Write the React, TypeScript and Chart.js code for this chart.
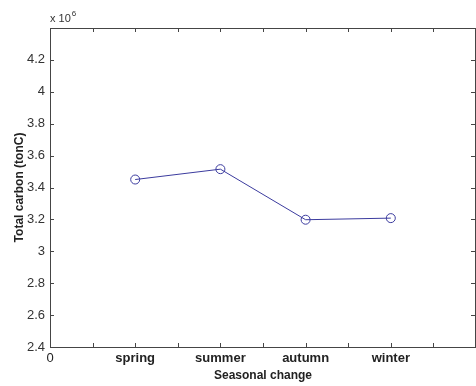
import React, { useEffect, useRef } from "react";
import { Chart, registerables } from "chart.js";

Chart.register(...registerables);

const categories = ["spring", "summer", "autumn", "winter"];
const totalCarbon = [3450000, 3515000, 3198000, 3208000];
const yTicks = [2.4, 2.6, 2.8, 3.0, 3.2, 3.4, 3.6, 3.8, 4.0, 4.2, 4.4];
const yScaleFactor = 1e6;
const xTickStep = 0.5;

const FONT = "'Liberation Sans', Arial, sans-serif";
const AXIS_COLOR = "#454545";

const boxPlugin = {
  id: "matlabBox",
  afterDraw(chart: any) {
    const { ctx, chartArea } = chart;
    const { left, right, top, bottom } = chartArea;
    const xs = chart.scales.x;
    const ys = chart.scales.y;
    ctx.save();
    ctx.strokeStyle = AXIS_COLOR;
    ctx.lineWidth = 1;
    ctx.strokeRect(Math.round(left) + 0.5, Math.round(top) + 0.5, Math.round(right - left) - 1, Math.round(bottom - top));
    const tl = 4;
    ctx.beginPath();
    for (let v = xs.min; v <= xs.max + 1e-9; v += xTickStep) {
      const px = Math.round(xs.getPixelForValue(v)) + 0.5;
      ctx.moveTo(px, bottom);
      ctx.lineTo(px, bottom - tl);
      ctx.moveTo(px, top);
      ctx.lineTo(px, top + tl);
    }
    for (const t of yTicks) {
      const py = Math.round(ys.getPixelForValue(t * yScaleFactor)) + 0.5;
      ctx.moveTo(left, py);
      ctx.lineTo(left + tl, py);
      ctx.moveTo(right - 1, py);
      ctx.lineTo(right - 1 - tl, py);
    }
    ctx.stroke();
    // exponent label
    ctx.fillStyle = "#333";
    ctx.textBaseline = "alphabetic";
    ctx.textAlign = "left";
    ctx.font = `11px ${FONT}`;
    const base = "x 10";
    ctx.fillText(base, left, top - 6);
    const w = ctx.measureText(base).width;
    ctx.font = `8px ${FONT}`;
    ctx.fillText(String(Math.log10(yScaleFactor)), left + w + 1, top - 12);
    ctx.restore();
  },
};

export default function App() {
  const ref = useRef<HTMLCanvasElement | null>(null);
  useEffect(() => {
    if (!ref.current) return;
    const chart = new Chart(ref.current, {
      type: "scatter",
      data: {
        datasets: [
          {
            data: totalCarbon.map((v, i) => ({ x: i + 1, y: v })),
            showLine: true,
            borderColor: "#3b3b9e",
            borderWidth: 1,
            pointStyle: "circle",
            pointRadius: 4.5,
            pointBorderWidth: 1,
            pointBackgroundColor: "rgba(0,0,0,0)",
            pointBorderColor: "#3b3b9e",
          },
        ],
      },
      plugins: [boxPlugin],
      options: {
        animation: false,
        responsive: false,
        layout: { autoPadding: false, padding: { top: 28, right: 0, left: 0, bottom: 0 } },
        plugins: { legend: { display: false }, tooltip: { enabled: false } },
        scales: {
          x: {
            type: "linear",
            min: 0,
            max: categories.length + 1,
            afterFit: (s: any) => {
              s.height = 39;
              s.paddingLeft = 0;
              s.paddingRight = 0;
            },
            grid: { display: false, drawTicks: false },
            border: { display: false },
            ticks: {
              stepSize: xTickStep,
              autoSkip: false,
              maxRotation: 0,
              padding: 4,
              color: "#222",
              font: (c: any) => {
                const v = c.tick ? c.tick.value : 0;
                return v >= 1 && v <= categories.length && Number.isInteger(v)
                  ? { family: FONT, size: 13, weight: "bold" }
                  : { family: FONT, size: 13, weight: "normal" };
              },
              callback: (v: any) => {
                const n = Number(v);
                if (n === 0) return "0";
                if (Number.isInteger(n) && n >= 1 && n <= categories.length) return categories[n - 1];
                return "";
              },
            },
            title: {
              display: true,
              text: "Seasonal change",
              color: "#222",
              font: { family: FONT, size: 12, weight: "bold" },
              padding: { top: 0, bottom: 3 },
            },
          },
          y: {
            min: yTicks[0] * yScaleFactor,
            max: yTicks[yTicks.length - 1] * yScaleFactor,
            afterFit: (s: any) => {
              s.width = 50;
            },
            afterBuildTicks: (s: any) => {
              s.ticks = yTicks.map((t) => ({ value: t * yScaleFactor }));
            },
            grid: { display: false, drawTicks: false },
            border: { display: false },
            ticks: {
              padding: 5,
              color: "#333",
              font: { family: FONT, size: 13 },
              callback: (v: any) => {
                const n = Number(v) / yScaleFactor;
                if (Math.abs(n - yTicks[yTicks.length - 1]) < 1e-9) return "";
                return String(Math.round(n * 10) / 10);
              },
            },
            title: {
              display: true,
              text: "Total carbon (tonC)",
              color: "#222",
              font: { family: FONT, size: 12, weight: "bold" },
              padding: { top: 12, bottom: 0 },
            },
          },
        },
      },
    });
    return () => chart.destroy();
  }, []);
  return (
    <div style={{ position: "fixed", left: 0, top: 0, width: 476, height: 386, background: "#fff" }}>
      <canvas ref={ref} width={476} height={386} style={{ display: "block" }} />
    </div>
  );
}
